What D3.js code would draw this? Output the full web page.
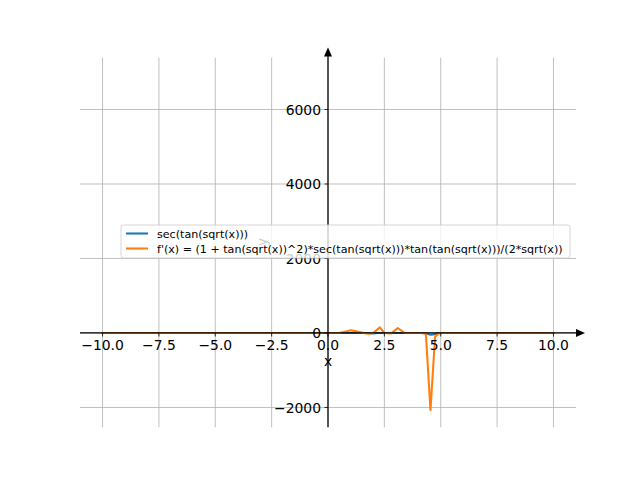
<!DOCTYPE html>
<html>
<head>
<meta charset="utf-8">
<script src="https://cdn.jsdelivr.net/npm/d3@7"></script>
<style>
  body { margin: 0; background: #fff; }
  text { font-family: "DejaVu Sans", sans-serif; }
</style>
</head>
<body>
<div class="chart"></div>
<script>
// values
const xTicks = [-10, -7.5, -5, -2.5, 0, 2.5, 5, 7.5, 10]
const yTicks = [-2000, 0, 2000, 4000, 6000]

const secX = [-10, 0, 1.8, 2.0, 2.2, 4.2, 4.4, 4.55, 4.75, 4.9, 10]
const secY = [0, 0, 0, -15, 0, 0, -20, -45, -30, 0, 0]

const derivX = [-10, 0, 0.5, 0.8, 1.0, 1.2, 1.5, 1.8, 2.0, 2.3, 2.5, 2.8, 3.1, 3.4, 4.1, 4.34, 4.545, 4.75, 4.95, 10]
const derivY = [0, 0, 0, 40, 75, 50, 10, -20, 0, 150, 0, -10, 130, 0, 0, -10, -2070, -100, 0, 0]

const labels = ["sec(tan(sqrt(x)))", "f'(x) = (1 + tan(sqrt(x))^2)*sec(tan(sqrt(x)))*tan(tan(sqrt(x)))/(2*sqrt(x))"]
const colors = ["#1f77b4", "#ff7f0e"]

const width = 640
const height = 480
const margin = { top: 57.6, right: 64, bottom: 52.8, left: 80 }

const svg = d3.select(".chart").append("svg")
    .attr("width", width)
    .attr("height", height)

const xScale = d3.scaleLinear().domain([-11, 11]).range([margin.left, width - margin.right])
const yScale = d3.scaleLinear().domain([-2529, 7393]).range([height - margin.bottom, margin.top])

const x0 = xScale(0)
const y0 = yScale(0)

// grid
svg.append("g").selectAll("line")
    .data(xTicks).enter().append("line")
    .attr("x1", d => xScale(d)).attr("x2", d => xScale(d))
    .attr("y1", margin.top).attr("y2", height - margin.bottom)
    .attr("stroke", "#b0b0b0").attr("stroke-width", 0.8)
svg.append("g").selectAll("line")
    .data(yTicks).enter().append("line")
    .attr("y1", d => yScale(d)).attr("y2", d => yScale(d))
    .attr("x1", margin.left).attr("x2", width - margin.right)
    .attr("stroke", "#b0b0b0").attr("stroke-width", 0.8)

// lines
const clip = svg.append("clipPath").attr("id", "clip").append("rect")
    .attr("x", margin.left).attr("y", margin.top)
    .attr("width", width - margin.left - margin.right)
    .attr("height", height - margin.top - margin.bottom)

const line = d3.line().x(d => xScale(d[0])).y(d => yScale(d[1]))
const series = [d3.zip(secX, secY), d3.zip(derivX, derivY)]
svg.append("g").attr("clip-path", "url(#clip)").selectAll("path")
    .data(series).enter().append("path")
    .attr("d", line)
    .attr("fill", "none")
    .attr("stroke", (d, i) => colors[i])
    .attr("stroke-width", 2.08)
    .attr("stroke-linejoin", "round")
    .attr("stroke-linecap", "square")

// spines through origin with arrows
svg.append("line")
    .attr("x1", margin.left).attr("x2", width - margin.right + 6)
    .attr("y1", y0).attr("y2", y0)
    .attr("stroke", "black").attr("stroke-width", 1.25)
svg.append("path")
    .attr("d", `M${width - margin.right + 9},${y0} l-9,-4 l0,8 z`)
    .attr("fill", "black")
svg.append("line")
    .attr("x1", x0).attr("x2", x0)
    .attr("y1", height - margin.bottom).attr("y2", margin.top - 6)
    .attr("stroke", "black").attr("stroke-width", 1.25)
svg.append("path")
    .attr("d", `M${x0},${margin.top - 10} l-4,9 l8,0 z`)
    .attr("fill", "black")

// x ticks
const xt = svg.append("g").selectAll("g").data(xTicks).enter().append("g")
    .attr("transform", d => `translate(${xScale(d)},${y0})`)
xt.append("line").attr("y2", 3.5).attr("stroke", "black").attr("stroke-width", 0.8)
xt.append("text")
    .attr("y", 17.5)
    .attr("text-anchor", "middle")
    .attr("font-size", "13.9px")
    .text(d => d3.format(".1f")(d).replace("-", "\u2212"))

// y ticks
const yt = svg.append("g").selectAll("g").data(yTicks).enter().append("g")
    .attr("transform", d => `translate(${x0},${yScale(d)})`)
yt.append("line").attr("x2", -3.5).attr("stroke", "black").attr("stroke-width", 0.8)
yt.append("text")
    .attr("x", -7)
    .attr("dy", "0.36em")
    .attr("text-anchor", "end")
    .attr("font-size", "13.9px")
    .text(d => String(d).replace("-", "\u2212"))

// axis labels
svg.append("text")
    .attr("x", x0).attr("y", 366)
    .attr("text-anchor", "middle")
    .attr("font-size", "13.9px")
    .text("x")
svg.append("text")
    .attr("transform", `translate(267,242) rotate(-90)`)
    .attr("text-anchor", "middle")
    .attr("font-size", "13.9px")
    .text("y")

// legend
const lg = svg.append("g").attr("transform", "translate(121,225)")
lg.append("rect")
    .attr("width", 449).attr("height", 33)
    .attr("rx", 2.5)
    .attr("fill", "white").attr("fill-opacity", 0.8)
    .attr("stroke", "#cccccc").attr("stroke-width", 0.8)
const items = lg.selectAll("g.item").data(labels).enter().append("g")
    .attr("transform", (d, i) => `translate(0,${8.5 + i * 15})`)
items.append("line")
    .attr("x1", 5).attr("x2", 27)
    .attr("stroke", (d, i) => colors[i]).attr("stroke-width", 2.08)
items.append("text")
    .attr("x", 36).attr("dy", "0.36em")
    .attr("font-size", "11.1px")
    .text(d => d)
</script>
</body>
</html>
